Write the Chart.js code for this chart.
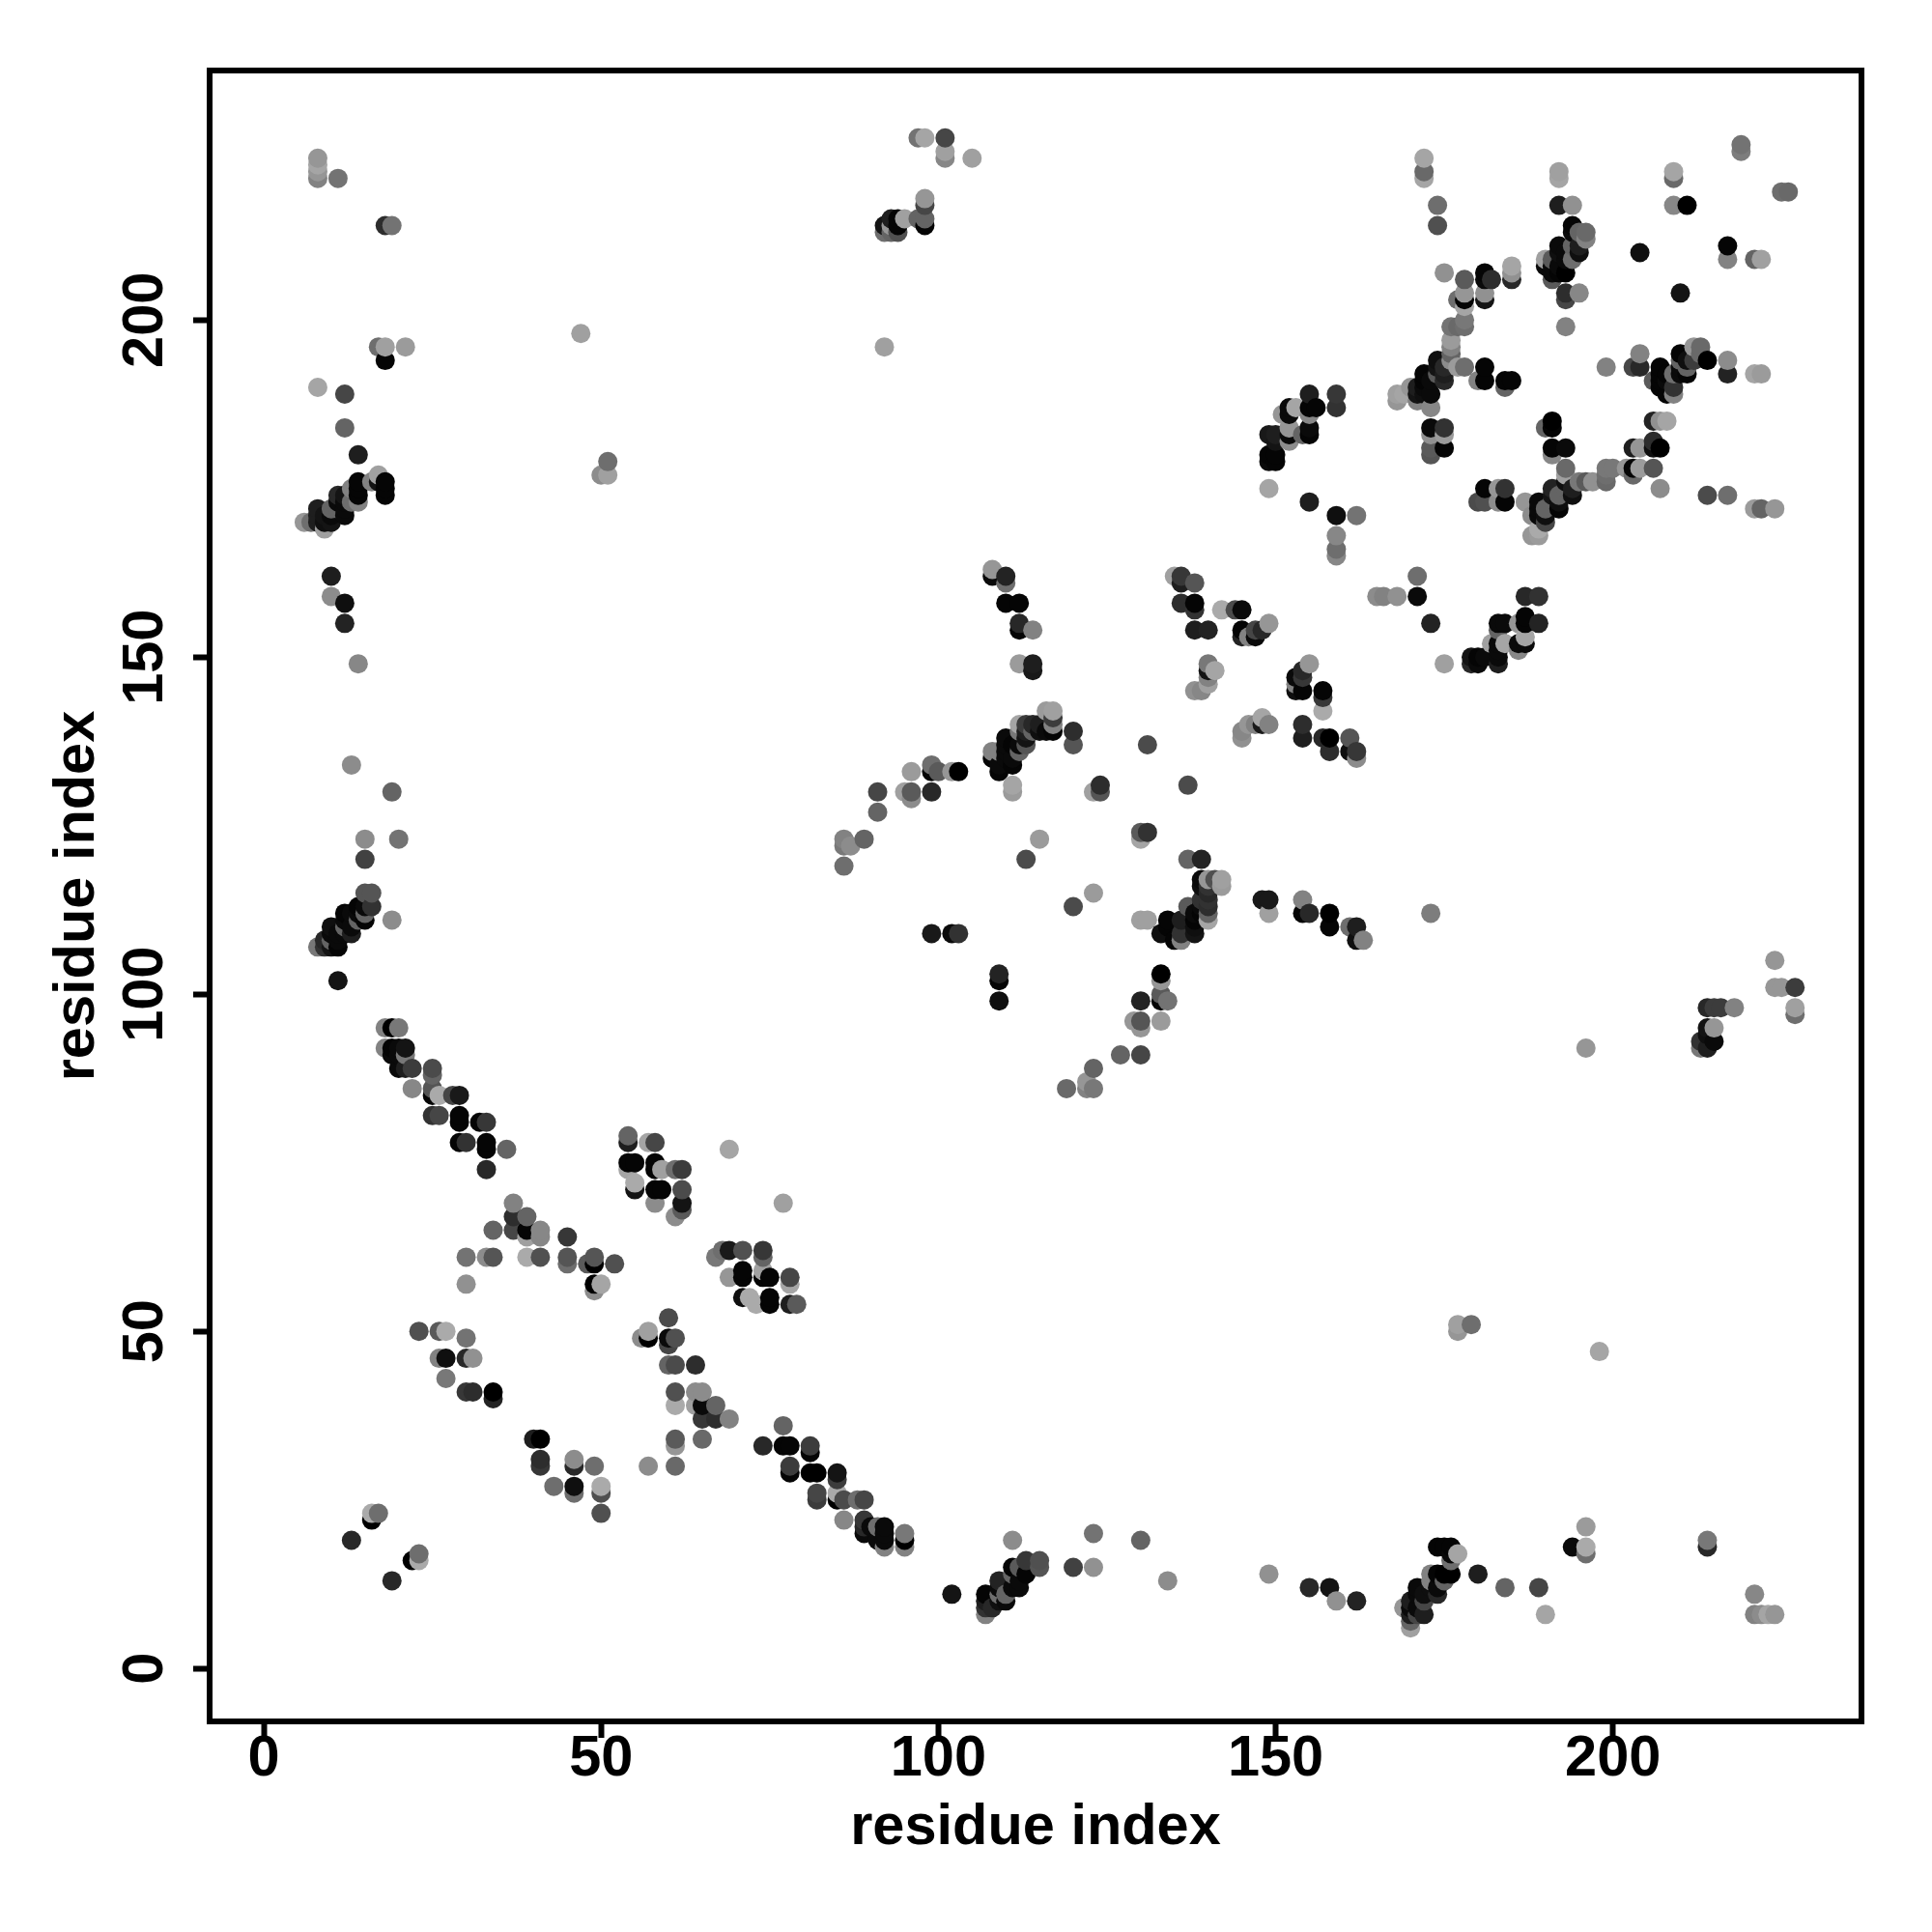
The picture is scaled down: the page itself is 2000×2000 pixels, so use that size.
<!DOCTYPE html>
<html>
<head>
<meta charset="utf-8">
<title>residue contact map</title>
<script src="https://cdn.jsdelivr.net/npm/chart.js@4"></script>
<style>
  html,body{margin:0;padding:0;background:#fff}
  #wrap{width:2000px;height:2000px}
</style>
</head>
<body>
<div id="wrap"><canvas id="contactMap" width="2000" height="2000"></canvas></div>
<script>
/* ===== Data ===== */
const xTickValues = [0,50,100,150,200];
const yTickValues = [0,50,100,150,200];
const axisTitle = "residue index";

const contactX = [
13,16,17,16,19,23,22,23,
23,26,27,30,26,27,30,31,27,30,31,34,34,
40,41,41,41,46,46,49,43,46,46,50,50,50,
30,30,33,34,34,37,37,39,37,39,41,41,39,39,41,45,45,45,48,49,49,52,49,50,49,
60,57,56,57,60,60,61,60,61,64,61,64,65,61,64,65,67,65,67,69,61,61,65,57,61,
54,54,57,58,54,55,54,58,58,59,61,62,55,55,58,59,62,58,62,62,61,69,77,
67,68,69,71,74,74,71,71,69,74,74,75,78,78,71,72,73,75,75,78,79,
18,19,20,18,19,20,21,19,20,21,20,21,22,25,25,22,25,25,26,28,29,25,26,29,29,32,33,29,30,33,33,36,33,
77,74,77,78,81,81,78,78,81,82,85,85,82,82,85,85,86,88,89,86,89,89,89,90,91,91,92,92,92,92,95,95,95,
102,107,107,107,107,108,109,109,109,109,110,110,111,111,111,112,112,112,113,113,115,115,111,120,123,123,130,134,
149,155,158,159,162,177,177,179,198,196,194,196,196,214,214,221,221,222,223,224,180,184,189,190,
170,170,170,170,169,170,171,171,171,172,172,171,172,173,173,174,173,174,174,175,175,176,176,174,175,176,176,177,
13,19,15,20,15,15,16,19,16,15,14,15,14,15,14,12,13,12,12,13,13,12,10,10,11,9,10,11,11,8,9,10,11,
8,8,8,8,11,18,19,47,17,18,21,18,8,12,12,14,51,51,50,17,16,17,18,18,18,14,14,14,14,13,13,11,12,12,12,11,12,11,8,8,9,10,10,9,10,8,9,7,6,10,10,12,12,14,
86,86,87,89,86,91,91,95,96,96,99,96,99,99,100,102,103,99,102,103,109,109,109,111,111,115,113,120,120,131,124,124,123,137,
108,108,110,110,110,112,112,112,114,112,114,114,
108,108,109,110,110,110,110,109,109,111,112,112,112,112,113,113,113,113,114,115,114,115,116,117,117,117,116,117,111,111,
130,130,131,137,139,123,120,130,131,133,134,134,135,136,136,136,137,138,138,138,139,140,140,139,139,140,141,142,142,140,140,140,140,139,139,138,
148,149,149,154,154,155,158,158,161,162,162,163,
133,133,133,133,134,130,129,130,130,133,127,130,123,122,122,123,119,
135,136,136,138,136,138,138,142,144,145,138,140,145,145,146,147,147,148,149,
140,140,141,140,140,139,138,
155,154,153,154,153,154,153,157,157,157,
148,146,145,145,147,148,149,154,154,157,158,158,161,161,162,162,
149,155,159,162,159,159,159,
155,159,159,155,156,155,153,152,152,151,152,152,152,150,149,150,155,155,154,149,150,149,150,
181,183,184,180,181,183,184,
187,189,183,184,187,187,186,189,183,183,182,184,187,186,187,186,183,179,180,179,180,181,183,183,175,
171,171,173,165,166,168,
168,168,169,170,171,171,171,172,172,172,172,173,173,173,174,174,174,175,175,175,173,173,175,175,175,173,173,
176,176,176,176,177,178,181,181,180,184,185,184,
172,172,172,174,174,175,178,181,181,182,185,185,185,178,177,178,181,181,178,178,178,176,177,
191,191,190,191,193,191,193,193,195,196,197,199,199,199,200,202,203,203,204,206,207,203,204,206,206,207,206,207,208,214,217,221,222,224,
187,188,188,189,189,189,189,189,190,190,190,191,191,191,192,192,192,193,193,194,194,
204,204,203,199,206,207,207,207,207,208,208,208,209,209,209,210,210,210,210,211,211,211,212,212,213,213,214,217,217,221,222,
192,192,192,194,209,209,209,211,219,219,225,226,217,217,221,222,204,210,193,193,195,193,
194,194,195,196,196,192,192,193,194,195,195,191,190,190,191,192,191,192,193,191,194,193,
97,98,101,101,101,105,98,98,98,97,98,92,95,94,93,94,92,93,92,93,94,
196,214,215,216,218,214,215,213,213,214,215,214,224,224,225,227,227,227,173
];

const contactY = [
19,23,23,22,13,17,16,16,
50,50,50,49,46,46,46,46,43,41,41,41,40,
34,34,31,30,31,30,30,27,27,26,27,26,23,
57,61,61,61,65,69,67,67,65,65,65,64,64,61,61,64,61,60,60,60,61,60,57,57,56,
52,50,49,49,49,48,49,45,45,45,41,41,41,39,39,39,39,37,37,37,34,33,34,30,30,
79,78,78,78,75,75,74,75,74,74,74,74,72,71,71,71,71,69,69,68,67,77,69,
61,62,62,62,62,61,59,58,58,59,58,58,58,57,55,55,54,55,54,54,54,
95,95,95,92,92,92,92,91,91,91,89,89,89,89,88,86,86,85,85,85,85,82,82,82,81,81,81,78,78,78,77,77,74,
36,33,33,33,33,32,30,29,29,29,29,28,26,25,26,25,25,25,25,22,22,21,20,21,21,19,21,20,19,18,20,19,18,
11,8,9,10,11,9,13,12,11,10,10,11,15,14,12,12,15,13,14,16,16,15,19,15,15,20,19,13,
14,12,12,10,10,51,50,51,47,21,18,18,17,19,18,11,8,8,8,8,14,12,12,8,
6,7,8,9,9,10,12,11,8,8,10,9,11,14,13,11,12,14,12,13,14,14,16,18,18,18,17,17,
134,130,123,123,120,115,115,111,113,113,113,112,112,111,111,112,112,111,110,110,109,109,110,109,109,108,108,108,107,107,107,107,102,
224,223,222,221,221,214,214,198,196,196,196,194,190,189,184,180,179,177,177,177,176,176,176,175,174,176,175,174,173,175,173,174,174,173,171,173,172,172,172,171,171,171,172,170,170,170,169,170,170,162,159,158,155,149,
123,122,122,123,119,130,127,130,130,129,130,133,134,133,133,133,133,109,109,109,103,102,99,131,130,123,120,139,137,137,131,130,130,131,
163,162,162,161,158,158,155,154,154,149,149,148,
136,135,136,138,137,136,135,133,134,134,140,139,137,136,140,139,138,137,140,140,139,139,139,139,140,141,142,142,137,135,
124,123,124,120,120,115,113,111,111,109,111,110,108,108,109,111,113,110,109,112,113,112,111,117,116,117,117,117,116,116,115,114,113,114,112,111,
114,114,112,114,112,112,112,110,110,110,108,108,
103,102,100,99,99,99,96,96,95,96,91,91,89,87,86,86,86,
162,162,161,161,158,158,157,157,157,157,154,154,154,153,153,154,153,154,155,
149,148,148,147,146,145,145,
149,148,147,147,145,145,146,145,144,142,
141,140,139,138,140,140,140,140,138,138,138,136,138,136,136,135,
175,173,171,171,168,166,165,
189,189,187,187,187,186,187,187,186,186,184,183,182,183,183,182,184,183,183,180,180,179,179,
175,175,175,173,173,173,173,
159,159,155,155,156,155,155,155,154,152,152,152,153,152,152,151,151,150,150,149,149,150,150,149,149,
162,159,155,159,159,159,
189,188,189,190,189,190,188,192,191,190,189,191,189,187,192,194,193,193,192,191,184,183,184,183,181,181,180,
197,196,195,194,193,193,193,191,191,191,191,190,
224,222,221,217,214,207,206,207,206,206,208,207,206,204,203,203,204,203,202,200,199,199,199,
185,184,184,181,181,180,178,177,176,176,176,178,176,177,178,178,178,177,178,178,175,181,181,182,181,181,185,185,185,174,174,172,172,172,
173,171,168,169,168,173,172,171,172,170,171,175,174,173,174,173,172,176,175,174,175,
195,193,193,193,191,193,192,191,190,192,191,189,190,189,192,195,194,193,192,192,194,193,196,194,196,195,194,194,192,192,192,
222,221,217,217,222,221,217,217,226,225,219,219,211,209,209,209,210,204,204,203,204,199,
214,213,213,213,212,211,210,210,211,210,211,209,209,208,208,208,207,207,207,206,209,209,
227,227,227,225,224,224,218,217,215,215,214,196,215,215,215,214,214,214,213,213,213,
92,98,98,98,98,95,95,93,92,92,93,94,105,101,101,101,98,97,112
];

const contactGray = [
40,170,110,0,40,110,0,170,
80,90,170,115,130,15,40,145,120,55,45,0,35,
30,0,45,55,140,40,110,110,15,110,170,80,80,
145,115,140,85,100,130,45,100,70,5,135,135,160,170,80,55,85,110,90,0,85,80,0,165,140,
75,160,140,0,10,70,80,100,75,45,80,140,140,170,160,10,100,55,45,130,90,150,105,140,105,
100,30,165,70,5,5,165,5,5,160,110,60,170,20,5,5,75,140,20,90,140,165,160,
120,110,25,80,55,100,5,5,150,160,5,5,70,165,15,170,170,5,5,30,90,
130,0,120,130,5,10,20,10,10,120,10,30,60,75,100,135,85,5,170,70,25,50,70,5,5,5,55,5,50,5,5,100,40,
100,40,5,5,60,5,60,5,0,0,20,60,70,60,170,0,75,110,70,135,55,40,10,10,110,10,10,10,10,130,120,0,130,
20,130,50,30,5,40,35,10,110,15,10,100,5,100,10,10,90,10,5,55,80,85,140,65,145,115,100,140,
145,40,20,145,35,160,150,110,165,155,10,170,110,120,40,135,130,140,165,150,30,100,70,165,
160,100,30,10,150,30,10,10,70,30,70,10,15,130,130,40,15,5,10,100,0,0,110,5,5,5,10,165,
140,100,140,115,65,85,85,140,50,10,5,100,10,5,100,5,10,10,100,10,30,10,15,10,10,40,100,10,5,120,50,20,20,
150,165,150,130,115,45,115,160,110,160,155,5,165,70,100,30,110,160,140,160,130,20,5,5,5,5,5,5,130,130,110,40,20,10,10,10,10,100,30,30,20,10,100,15,20,30,160,110,150,30,140,15,35,135,
130,120,140,100,110,70,100,160,90,140,40,155,110,5,90,150,0,25,10,50,35,5,15,165,155,155,75,45,85,75,45,85,160,75,
150,10,35,110,5,5,40,5,130,155,30,25,
130,5,130,10,10,10,10,5,10,5,165,120,10,100,60,30,20,85,40,30,100,15,10,5,130,60,155,160,5,10,
90,165,50,100,35,155,75,160,160,15,5,5,5,130,50,30,90,15,20,10,10,100,165,10,15,150,80,160,155,50,40,50,45,50,5,5,
25,25,160,130,5,40,0,5,110,30,15,130,
0,150,90,5,115,35,150,85,150,155,100,70,100,150,130,120,105,
160,55,30,85,45,5,50,170,75,10,30,35,5,35,130,70,10,40,150,
120,20,165,130,160,135,145,
150,40,10,55,15,5,130,5,55,170,
165,150,135,145,130,25,130,45,30,40,0,45,85,15,55,140,
165,30,15,115,135,110,135,
30,55,50,5,5,135,165,10,10,150,150,10,140,30,25,20,10,5,100,5,5,10,5,
5,150,50,75,80,140,5,
40,50,10,10,5,5,150,35,100,10,160,165,165,10,10,135,10,20,5,40,10,10,10,30,160,
110,10,35,140,130,145,
160,150,165,150,20,30,130,5,5,10,15,10,10,135,90,15,20,40,30,40,10,145,50,155,5,90,85,
155,130,100,140,155,110,5,5,130,5,5,100,
165,105,165,110,80,145,90,5,10,45,165,145,40,150,110,5,145,20,165,120,110,115,105,
0,5,100,5,10,135,105,160,120,90,145,120,105,110,120,150,5,105,155,85,140,30,150,45,15,0,35,145,165,75,110,155,100,150,
150,140,150,170,155,10,10,10,100,70,15,35,20,100,100,15,5,15,100,15,30,
130,40,70,130,90,5,5,5,5,5,10,5,50,130,110,5,100,10,10,5,15,100,150,60,105,105,0,140,35,165,155,
160,165,30,145,165,105,135,0,115,125,110,105,5,130,100,160,15,20,45,70,135,130,
5,10,100,105,130,10,15,10,100,15,30,90,160,10,10,10,10,5,0,90,110,10,
115,165,70,160,135,160,150,70,100,100,5,160,160,5,30,5,20,150,110,100,80,
150,40,60,60,130,20,150,50,120,30,10,15,150,150,150,60,160,110,125
];

if(contactX.length !== contactY.length || contactX.length !== contactGray.length){
  throw new Error(`array lengths differ: ${contactX.length} ${contactY.length} ${contactGray.length}`);
}

/* points are laid down by x then y, so later residues cover earlier ones */
const drawOrder = contactX.map((_,i)=>i).sort((a,b)=>contactX[a]-contactX[b] || contactY[a]-contactY[b]);
const points = drawOrder.map(i=>({x:contactX[i],y:contactY[i]}));
const pointColors = drawOrder.map(i=>`rgb(${contactGray[i]},${contactGray[i]},${contactGray[i]})`);

/* ===== Chart ===== */
const FONT = {family:"'Liberation Sans'",weight:"bold",size:59.5};
const AREA = {left:217,right:1927,top:73,bottom:1782};

const boxFrame = {
  id:"boxFrame",
  afterDatasetsDraw(chart){
    const {ctx,chartArea:a} = chart;
    ctx.save();
    ctx.strokeStyle = "#000";
    ctx.lineWidth = 6;
    ctx.strokeRect(a.left,a.top,a.right-a.left,a.bottom-a.top);
    ctx.restore();
  }
};

new Chart(document.getElementById("contactMap"),{
  type:"scatter",
  data:{datasets:[{
    data:points,
    pointBackgroundColor:pointColors,
    pointBorderWidth:0,
    pointRadius:10,
    pointHoverRadius:10
  }]},
  options:{
    responsive:false,
    animation:false,
    events:[],
    layout:{padding:{top:AREA.top,right:2000-AREA.right,left:0,bottom:0}},
    plugins:{legend:{display:false},tooltip:{enabled:false}},
    scales:{
      x:{
        type:"linear",
        min:-8.03,
        max:236.85,
        afterFit:s=>{s.height = 2000-AREA.bottom;},
        afterBuildTicks:s=>{s.ticks = xTickValues.map(v=>({value:v}));},
        border:{display:false},
        grid:{drawOnChartArea:false,tickLength:17,tickWidth:6,tickColor:"#000"},
        ticks:{color:"#000",font:FONT,padding:-13,maxRotation:0,minRotation:0,autoSkip:false},
        title:{display:true,text:axisTitle,color:"#000",font:FONT,padding:{top:0,bottom:72}}
      },
      y:{
        type:"linear",
        min:-7.86,
        max:237,
        afterFit:s=>{s.width = AREA.left;},
        afterBuildTicks:s=>{s.ticks = yTickValues.map(v=>({value:v}));},
        border:{display:false},
        grid:{drawOnChartArea:false,tickLength:17,tickWidth:6,tickColor:"#000"},
        ticks:{color:"#000",font:FONT,padding:-1,minRotation:90,maxRotation:90,crossAlign:"center",autoSkip:false},
        title:{display:true,text:axisTitle,color:"#000",font:FONT,padding:{top:45,bottom:0}}
      }
    }
  },
  plugins:[boxFrame]
});
</script>
</body>
</html>
